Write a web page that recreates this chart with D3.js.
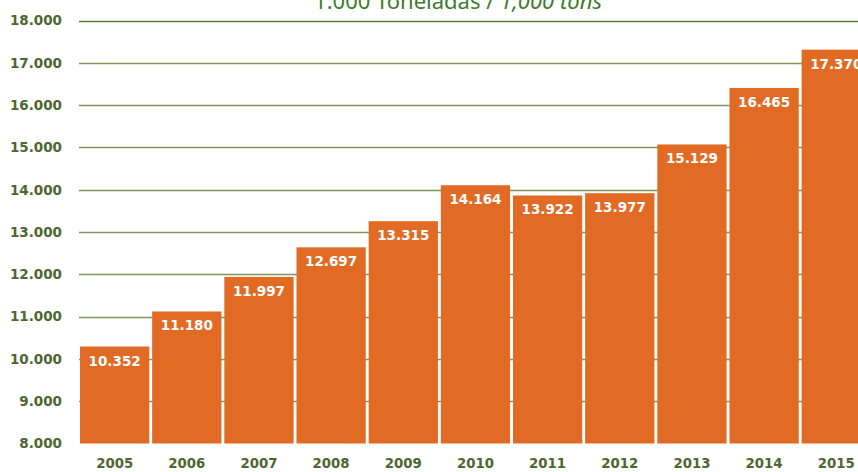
<!DOCTYPE html>
<html>
<head>
<meta charset="utf-8">
<script src="https://cdn.jsdelivr.net/npm/d3@7"></script>
<style>
  body { margin: 0; background: #fff; }
  svg { display: block; }
</style>
</head>
<body>
<div id="chart"></div>
<script>
// chart data
var years  = ["2005","2006","2007","2008","2009","2010","2011","2012","2013","2014","2015"]
var values = [10352, 11180, 11997, 12697, 13315, 14164, 13922, 13977, 15129, 16465, 17370]
var valueLabels = ["10.352","11.180","11.997","12.697","13.315","14.164","13.922","13.977","15.129","16.465","17.370"]
var yTicks = [8000, 9000, 10000, 11000, 12000, 13000, 14000, 15000, 16000, 17000, 18000]
var titlePt = "1.000 Toneladas / "
var titleEn = "1,000 tons"

var svgWidth  = 858
var svgHeight = 472
var barColor  = "#e16b25"
var textGreen = "#4e6630"
var lineGreen = "#7f9460"

var fmt = function(v){ return d3.format(",")(v).replace(/,/g, ".") }

var svg = d3.select("#chart")
.append("svg")
.attr("width", svgWidth)
.attr("height", svgHeight)

var y = d3.scaleLinear()
.domain([8000, 18000])
.range([443.5, 20.5])

var x = d3.scaleBand()
.domain(years)
.range([80, 80 + 11 * 71.9])
.paddingInner(0.04)
.paddingOuter(0)

// title (cut at the top like the original)
var title = svg.append("text")
.attr("x", 458)
.attr("y", 9)
.attr("text-anchor", "middle")
.attr("fill", "#3f7a2c")
.style("font-family", "'Liberation Sans Narrow', 'Noto Sans', sans-serif")
.style("font-size", "22px")
title.append("tspan").text(titlePt)
title.append("tspan").style("font-style", "italic").text(titleEn)

// gridlines
svg.selectAll("line.grid")
.data(yTicks.filter(function(d){ return d > 8000 }))
.enter()
.append("line")
.attr("class", "grid")
.attr("x1", 79)
.attr("x2", svgWidth)
.attr("y1", function(d){ return Math.round(y(d)) + 0.5 })
.attr("y2", function(d){ return Math.round(y(d)) + 0.5 })
.attr("stroke", function(d){ return d === 18000 ? "#5b7b37" : lineGreen })
.attr("stroke-width", 1.4)

// y tick labels
svg.selectAll("text.ytick")
.data(yTicks)
.enter()
.append("text")
.attr("class", "ytick")
.attr("x", 62)
.attr("y", function(d){ return y(d) })
.attr("dy", "0.36em")
.attr("text-anchor", "end")
.attr("fill", textGreen)
.style("font-family", "'DejaVu Sans', sans-serif")
.style("font-weight", "bold")
.style("font-size", "13.5px")
.text(fmt)

// bars
svg.selectAll("rect.bar")
.data(values)
.enter()
.append("rect")
.attr("class", "bar")
.attr("x", function(d, i){ return x(years[i]) })
.attr("y", function(d){ return y(d) + 2.5 })
.attr("width", x.bandwidth())
.attr("height", function(d){ return y(8000) - y(d) - 2.5 })
.attr("fill", barColor)

// value labels
svg.selectAll("text.val")
.data(values)
.enter()
.append("text")
.attr("class", "val")
.attr("x", function(d, i){ return x(years[i]) + x.bandwidth() / 2 })
.attr("y", function(d){ return y(d) + 21.5 })
.attr("text-anchor", "middle")
.attr("fill", "#fff")
.style("font-family", "'DejaVu Sans', sans-serif")
.style("font-weight", "bold")
.style("font-size", "13.5px")
.text(function(d, i){ return valueLabels[i] })

// year labels
svg.selectAll("text.year")
.data(years)
.enter()
.append("text")
.attr("class", "year")
.attr("x", function(d){ return x(d) + x.bandwidth() / 2 })
.attr("y", 468)
.attr("text-anchor", "middle")
.attr("fill", textGreen)
.style("font-family", "'DejaVu Sans', sans-serif")
.style("font-weight", "bold")
.style("font-size", "13.3px")
.text(function(d){ return d })
</script>
</body>
</html>
